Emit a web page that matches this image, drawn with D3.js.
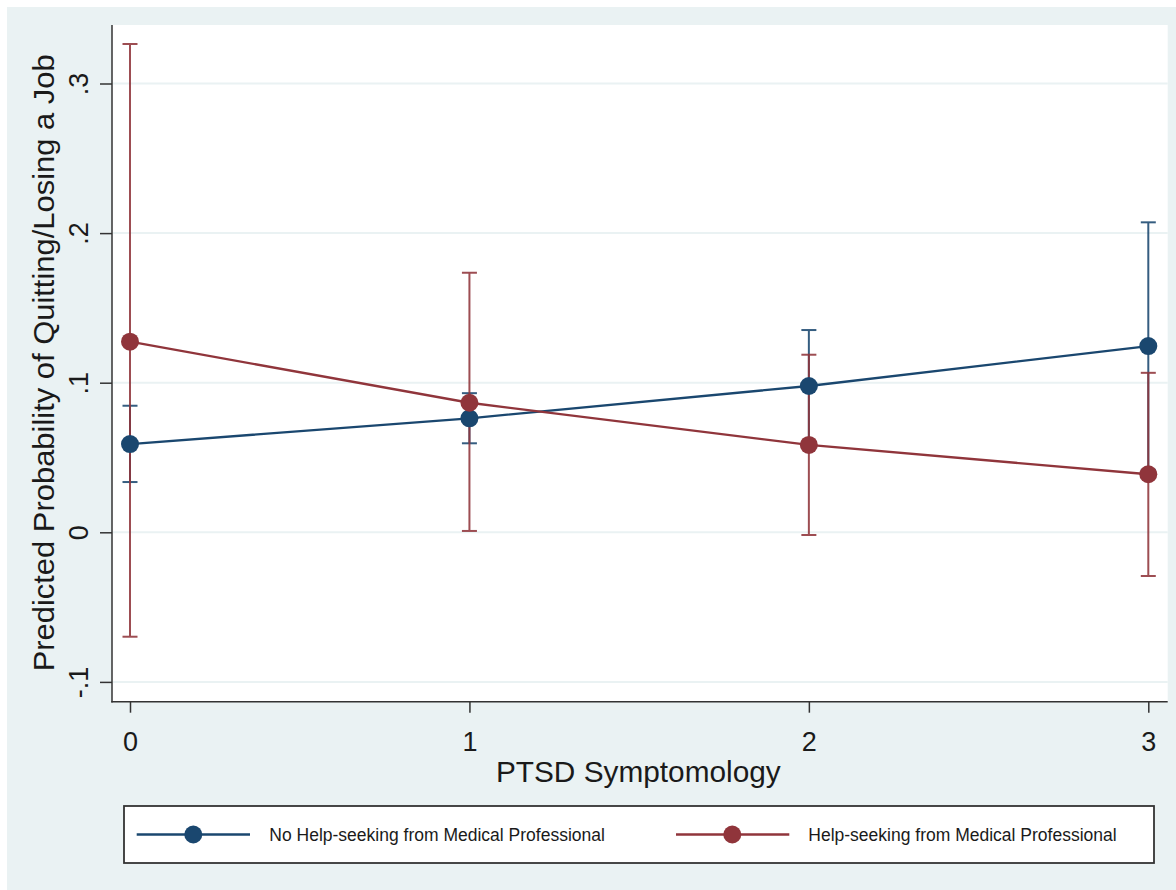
<!DOCTYPE html>
<html>
<head>
<meta charset="utf-8">
<script src="https://cdn.jsdelivr.net/npm/d3@7"></script>
<style>
  html, body { margin: 0; padding: 0; background: #ffffff; }
  svg { display: block; font-family: "Liberation Sans", Arial, sans-serif; }
</style>
</head>
<body>
<svg id="chart" width="1176" height="890"></svg>
<script>
// ---- data ----
const xValues = [0, 1, 2, 3];
const xTickLabels = ["0", "1", "2", "3"];
const yTickValues = [-0.1, 0, 0.1, 0.2, 0.3];
const yTickLabels = ["-.1", "0", ".1", ".2", ".3"];
const seriesNames = ["No Help-seeking from Medical Professional", "Help-seeking from Medical Professional"];
const noHelpEst = [0.059, 0.0762, 0.0978, 0.1245];
const noHelpLow = [0.0336, 0.0595, 0.0604, 0.0418];
const noHelpHigh = [0.0846, 0.093, 0.1352, 0.2072];
const helpEst = [0.1274, 0.0866, 0.0584, 0.0388];
const helpLow = [-0.0698, 0.0009, -0.0018, -0.0292];
const helpHigh = [0.3264, 0.1735, 0.1187, 0.1066];
const xTitle = "PTSD Symptomology";
const yTitle = "Predicted Probability of Quitting/Losing a Job";

// ---- styles ----
const colors = ["#1a476f", "#90353b"];
const bg = "#eaf2f3";
const textColor = "#1a1a1a";
const axisColor = "#333333";

const svg = d3.select("#chart");

// outer graph region
svg.append("rect").attr("x", 7).attr("y", 7).attr("width", 1169).attr("height", 883).attr("fill", bg);

const plot = { left: 112, right: 1167.7, top: 25, bottom: 701.7 };
svg.append("rect").attr("x", plot.left).attr("y", plot.top)
  .attr("width", plot.right - plot.left).attr("height", plot.bottom - plot.top).attr("fill", "#ffffff");

const x = d3.scaleLinear().domain([0, 3]).range([130, 1148.3]);
const y = d3.scaleLinear().domain([0, 0.3]).range([532.3, 83.5]);

// gridlines
svg.append("g").selectAll("line").data(yTickValues).join("line")
  .attr("x1", plot.left + 1).attr("x2", plot.right)
  .attr("y1", d => y(d)).attr("y2", d => y(d))
  .attr("stroke", bg).attr("stroke-width", 2);

// y axis
const yAxis = d3.axisLeft(y).tickValues(yTickValues)
  .tickFormat((d, i) => yTickLabels[i]).tickSize(12).tickSizeOuter(0);
const gy = svg.append("g").attr("transform", `translate(${plot.left},0)`).call(yAxis);
gy.select(".domain").remove();
gy.selectAll(".tick line").attr("stroke", axisColor).attr("stroke-width", 1.5);
gy.selectAll(".tick text")
  .attr("x", null).attr("dy", null)
  .attr("transform", "translate(-24,0) rotate(-90)")
  .attr("text-anchor", "middle")
  .attr("font-size", 27).attr("fill", textColor)
  .attr("font-family", "Liberation Sans, Arial, sans-serif");
svg.append("line").attr("x1", plot.left).attr("x2", plot.left)
  .attr("y1", plot.top).attr("y2", plot.bottom + 0.75)
  .attr("stroke", axisColor).attr("stroke-width", 1.5);

// x axis
const xAxis = d3.axisBottom(x).tickValues(xValues)
  .tickFormat((d, i) => xTickLabels[i]).tickSize(11).tickSizeOuter(0);
const gx = svg.append("g").attr("transform", `translate(0,${plot.bottom})`).call(xAxis);
gx.select(".domain").remove();
gx.selectAll(".tick line").attr("stroke", axisColor).attr("stroke-width", 1.5);
gx.selectAll(".tick text")
  .attr("y", 49).attr("dy", null)
  .attr("font-size", 27).attr("fill", textColor)
  .attr("font-family", "Liberation Sans, Arial, sans-serif");
svg.append("line").attr("x1", plot.left - 0.75).attr("x2", plot.right)
  .attr("y1", plot.bottom).attr("y2", plot.bottom)
  .attr("stroke", axisColor).attr("stroke-width", 1.5);

// axis titles
svg.append("text").attr("x", (plot.left + plot.right) / 2 - 1.5).attr("y", 781.5)
  .attr("text-anchor", "middle").attr("font-size", 29.8).attr("fill", textColor).text(xTitle);
svg.append("text").attr("transform", `translate(54,${(plot.top + plot.bottom) / 2 - 0.5}) rotate(-90)`)
  .attr("text-anchor", "middle").attr("font-size", 29.8)
  .attr("textLength", 617).attr("lengthAdjust", "spacingAndGlyphs")
  .attr("fill", textColor).text(yTitle);

// series
const series = [
  { est: noHelpEst, low: noHelpLow, high: noHelpHigh, color: colors[0] },
  { est: helpEst, low: helpLow, high: helpHigh, color: colors[1] }
];
const capHalf = 7.5;

series.forEach(s => {
  const g = svg.append("g").attr("opacity", 0.88);
  xValues.forEach((xv, i) => {
    g.append("line").attr("x1", x(xv)).attr("x2", x(xv))
      .attr("y1", y(s.low[i])).attr("y2", y(s.high[i]))
      .attr("stroke", s.color).attr("stroke-width", 2);
    [s.low[i], s.high[i]].forEach(v => {
      g.append("line").attr("x1", x(xv) - capHalf).attr("x2", x(xv) + capHalf)
        .attr("y1", y(v)).attr("y2", y(v))
        .attr("stroke", s.color).attr("stroke-width", 2);
    });
  });
});

const line = d3.line().x((d, i) => x(xValues[i])).y(d => y(d));
series.forEach(s => {
  svg.append("path").datum(s.est).attr("d", line)
    .attr("fill", "none").attr("stroke", s.color).attr("stroke-width", 2.3);
  svg.append("g").selectAll("circle").data(s.est).join("circle")
    .attr("cx", (d, i) => x(xValues[i])).attr("cy", d => y(d)).attr("r", 9)
    .attr("fill", s.color);
});

// legend
const legend = svg.append("g");
legend.append("rect").attr("x", 124).attr("y", 806).attr("width", 1030).attr("height", 57)
  .attr("fill", "#ffffff").attr("stroke", axisColor).attr("stroke-width", 1.8);
const legendItems = [
  { lx1: 136.7, lx2: 250, mx: 193.3, tx: 269.3 },
  { lx1: 676, lx2: 789.3, mx: 732.3, tx: 808.3 }
];
const ly = 834.5;
legendItems.forEach((it, i) => {
  legend.append("line").attr("x1", it.lx1).attr("x2", it.lx2).attr("y1", ly).attr("y2", ly)
    .attr("stroke", colors[i]).attr("stroke-width", 2.3);
  legend.append("circle").attr("cx", it.mx).attr("cy", ly).attr("r", 9).attr("fill", colors[i]);
  legend.append("text").attr("x", it.tx).attr("y", ly + 6.3).attr("font-size", 17.5)
    .attr("fill", textColor).text(seriesNames[i]);
});
</script>
</body>
</html>
